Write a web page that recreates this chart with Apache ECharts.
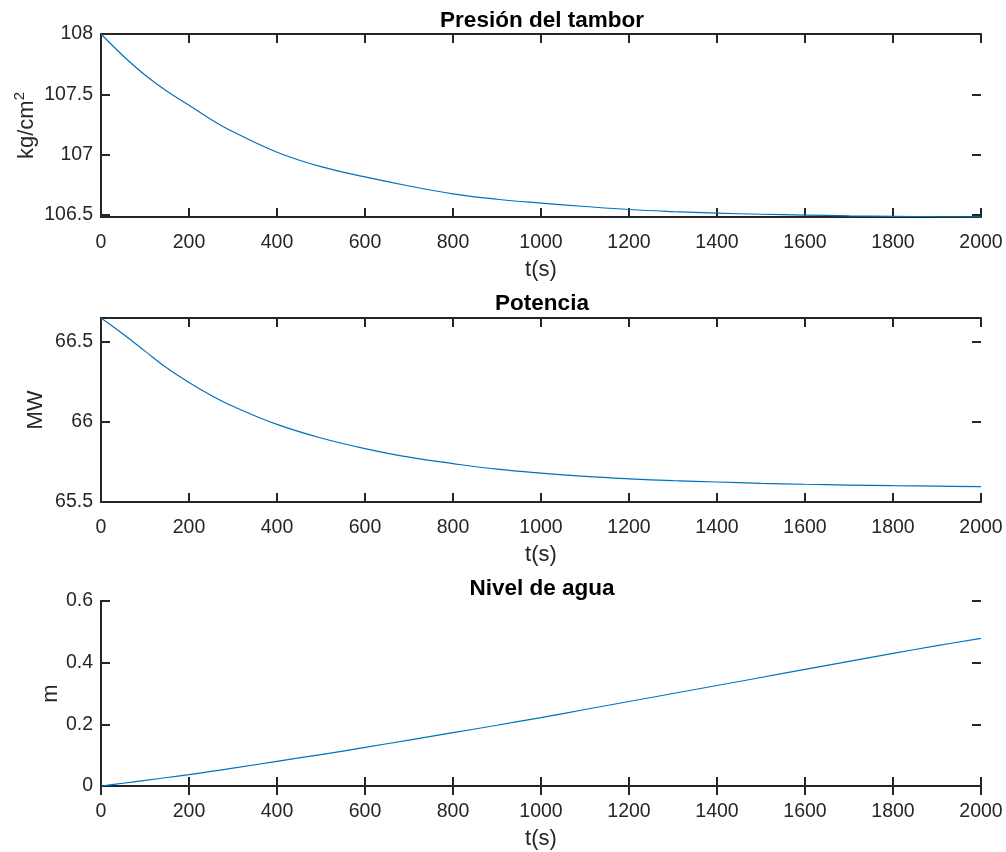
<!DOCTYPE html>
<html><head><meta charset="utf-8">
<script src="https://cdn.jsdelivr.net/npm/echarts@6/dist/echarts.min.js"></script>
<style>html,body{margin:0;padding:0;background:#fff}#c{width:1006px;height:852px}</style>
</head><body><div id="c"></div>
<script>
// ---- data ----
const time = [0, 50, 100, 150, 200, 250, 300, 400, 500, 600, 700, 800, 900, 1000, 1100, 1200, 1300, 1400, 1500, 1600, 1700, 1800, 1900, 2000];
const presion = [108.0, 107.82, 107.66, 107.525, 107.41, 107.292, 107.19, 107.02, 106.90, 106.815, 106.74, 106.675, 106.63, 106.598, 106.57, 106.545, 106.528, 106.515, 106.506, 106.499, 106.493, 106.489, 106.486, 106.484];
const potencia = [66.65, 66.55, 66.443, 66.337, 66.247, 66.167, 66.098, 65.985, 65.90, 65.834, 65.78, 65.74, 65.705, 65.68, 65.66, 65.645, 65.633, 65.625, 65.617, 65.611, 65.606, 65.602, 65.599, 65.596];
const nivel = [0, 0.009, 0.018, 0.0275, 0.037, 0.0473, 0.058, 0.080, 0.102, 0.125, 0.149, 0.173, 0.197, 0.222, 0.248, 0.274, 0.300, 0.326, 0.352, 0.378, 0.404, 0.430, 0.455, 0.479];
const titles = ['Presión del tambor', 'Potencia', 'Nivel de agua'];
const xName = 't(s)';
const yNames = ['{a|kg/cm}{s|2}', 'MW', 'm'];
// y tick labels: first, last and step
const yTickMin = [106.5, 65.5, 0];
const yTickMax = [108, 66.5, 0.6];
const yTickStep = [0.5, 0.5, 0.2];
// axis limits
const yMin = [106.483, 65.5, 0];
const yMax = [108, 66.65, 0.6];

// ---- layout / style ----
const FONT = "'Liberation Sans', Arial, Helvetica, sans-serif";
const AX = '#262626';
const plotBoxes = [
  {left: 101, width: 880, top: 34, height: 183},
  {left: 101, width: 880, top: 318, height: 184},
  {left: 101, width: 880, top: 601, height: 185}
];
const titleTops = [4, 287, 572];
const yNameGaps = [60.5, 54.5, 39.5];
const seriesData = [presion, potencia, nivel];

const lineStyle = {show: true, lineStyle: {color: AX, width: 2}};
const tickStyle = {show: true, inside: true, length: 9, lineStyle: {color: AX, width: 2}};

const option = {
  animation: false,
  backgroundColor: '#fff',
  title: titles.map((t, i) => ({
    text: t, left: 537, top: titleTops[i], textAlign: 'center',
    textStyle: {fontFamily: FONT, fontSize: 22.5, fontWeight: 'bold', color: '#000'}
  })),
  grid: [],
  xAxis: [],
  yAxis: [],
  series: []
};

for (let i = 0; i < 3; i++) {
  const b = plotBoxes[i];
  const span = yMax[i] - yMin[i];
  const gData = option.grid.length;
  option.grid.push({left: b.left, width: b.width, top: b.top, height: b.height});
  // grid carrying the y ticks, same scale as data axis but spanning only the tick range
  const gTick = option.grid.length;
  option.grid.push({
    left: b.left, width: b.width,
    top: b.top + b.height * (yMax[i] - yTickMax[i]) / span,
    height: b.height * (yTickMax[i] - yTickMin[i]) / span
  });

  const xi = option.xAxis.length;
  option.xAxis.push({
    type: 'value', gridIndex: gData, position: 'bottom', min: 0, max: 2000, interval: 200,
    axisLine: lineStyle, axisTick: tickStyle, splitLine: {show: false},
    axisLabel: {show: true, margin: 16, color: AX, fontFamily: FONT, fontSize: 19.5, hideOverlap: false,
      formatter: v => String(v)},
    name: xName, nameLocation: 'middle', nameGap: 42,
    nameTextStyle: {fontFamily: FONT, fontSize: 22, color: AX}
  });
  option.xAxis.push({
    type: 'value', gridIndex: gData, position: 'top', min: 0, max: 2000, interval: 200,
    axisLine: lineStyle, axisTick: tickStyle, splitLine: {show: false},
    axisLabel: {show: false}
  });
  option.xAxis.push({type: 'value', gridIndex: gTick, min: 0, max: 2000, show: false});

  const yi = option.yAxis.length;
  option.yAxis.push({
    type: 'value', gridIndex: gData, position: 'left', min: yMin[i], max: yMax[i], scale: true,
    axisLine: lineStyle, axisTick: {show: false}, axisLabel: {show: false}, splitLine: {show: false},
    name: yNames[i], nameLocation: 'middle', nameGap: yNameGaps[i], nameRotate: 90,
    nameTextStyle: {fontFamily: FONT, fontSize: 22, color: AX,
      rich: {a: {fontFamily: FONT, fontSize: 22, color: AX},
             s: {fontFamily: FONT, fontSize: 15, color: AX, verticalAlign: 'top', padding: [0, 0, 13, 0]}}}
  });
  option.yAxis.push({
    type: 'value', gridIndex: gData, position: 'right', min: yMin[i], max: yMax[i], scale: true,
    axisLine: lineStyle, axisTick: {show: false}, axisLabel: {show: false}, splitLine: {show: false}
  });
  option.yAxis.push({
    type: 'value', gridIndex: gTick, position: 'left', min: yTickMin[i], max: yTickMax[i], interval: yTickStep[i],
    axisLine: {show: false}, axisTick: tickStyle, splitLine: {show: false},
    axisLabel: {show: true, margin: 8, color: AX, fontFamily: FONT, fontSize: 19.5,
      formatter: v => String(+(+v).toFixed(2))}
  });
  option.yAxis.push({
    type: 'value', gridIndex: gTick, position: 'right', min: yTickMin[i], max: yTickMax[i], interval: yTickStep[i],
    axisLine: {show: false}, axisTick: tickStyle, splitLine: {show: false}, axisLabel: {show: false}
  });

  option.series.push({
    type: 'line', xAxisIndex: xi, yAxisIndex: yi,
    data: time.map((t, k) => [t, seriesData[i][k]]),
    showSymbol: false, smooth: 0.4,
    lineStyle: {color: '#0072BD', width: 1.2}, clip: true
  });
}

const chart = echarts.init(document.getElementById('c'), null, {renderer: 'canvas'});
chart.setOption(option);
</script>
</body></html>
